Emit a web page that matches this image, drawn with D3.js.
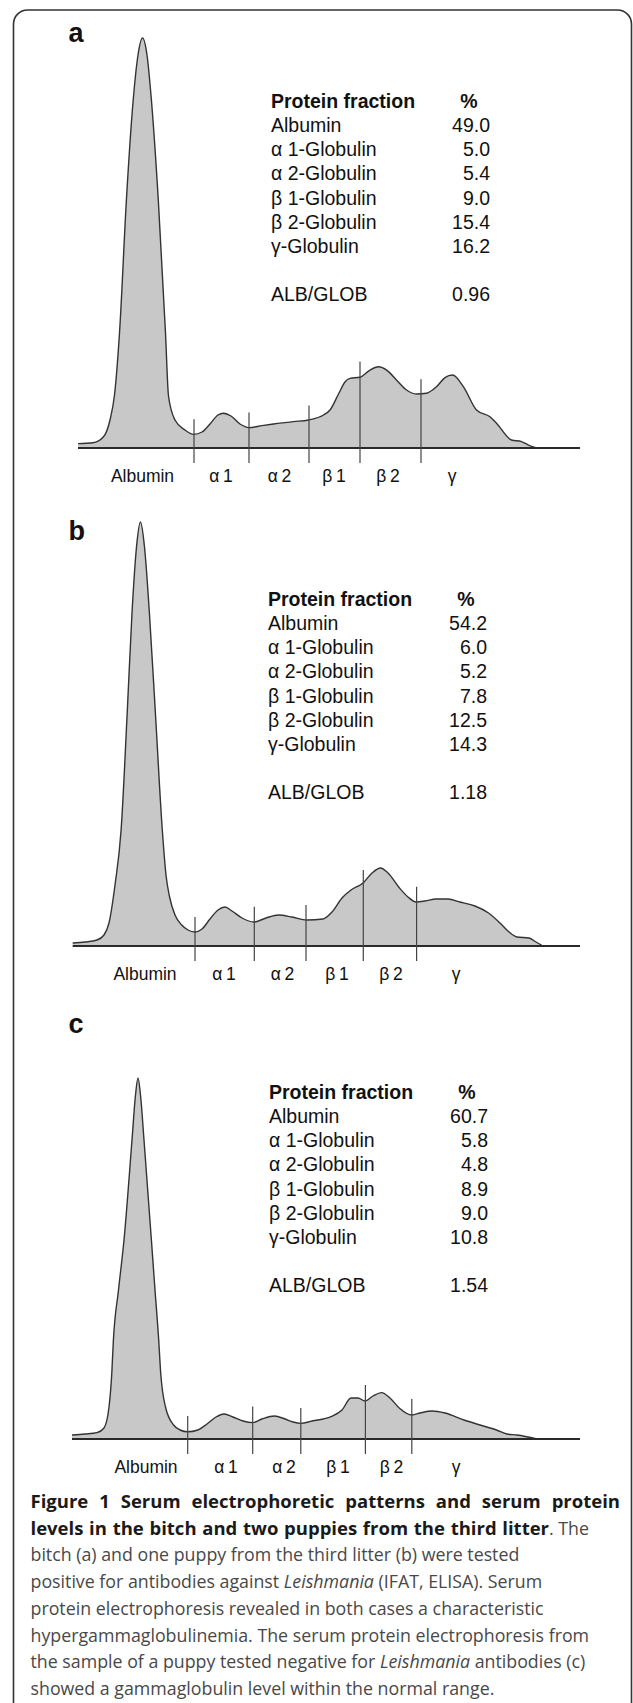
<!DOCTYPE html>
<html>
<head>
<meta charset="utf-8">
<script src="https://cdnjs.cloudflare.com/ajax/libs/d3/7.8.5/d3.min.js"></script>
<style>
  body { margin: 0; background: #fff; }
  svg { display: block; }
</style>
</head>
<body>
<script>
// fraction names for the table and the axis labels under each trace
const fractionNames = ["Albumin", "\u03b1 1-Globulin", "\u03b1 2-Globulin", "\u03b2 1-Globulin", "\u03b2 2-Globulin", "\u03b3-Globulin"];
const tickLabels = ["Albumin", "\u03b1\u20091", "\u03b1\u20092", "\u03b2\u20091", "\u03b2\u20092", "\u03b3"];

// percent values per sample
const percentA = [49.0, 5.0, 5.4, 9.0, 15.4, 16.2];
const percentB = [54.2, 6.0, 5.2, 7.8, 12.5, 14.3];
const percentC = [60.7, 5.8, 4.8, 8.9, 9.0, 10.8];
const ratioA = 0.96, ratioB = 1.18, ratioC = 1.54;

// densitometer traces: [mobility, relative intensity]
const traceA = [[-0.4,1.1],[2.6,1.3],[4.7,2.8],[6,7],[6.9,13.25],[7.9,28.75],[9.28,62],[10.64,87],[11.6,98.25],
  [12.5,102.5],[13.4,98.25],[14.28,87],[15.66,62],[17.1,28.75],[17.7,13],[19,7],[21,4.5],[22.7,3.4],[24.4,4],
  [26,6],[27.6,8.25],[28.7,8.7],[30.2,8],[32,6],[33.8,5.1],[36.4,5.6],[38.7,6],[42.7,6.6],[45.7,7],[48.7,8.25],
  [50,9.5],[51.8,13.75],[53,16.5],[54,17.4],[56,17.7],[57.8,19.3],[59.7,20.3],[61.4,19.4],[63.3,17],[65.3,14.5],
  [67.3,13.5],[69.3,13.7],[71.3,15.3],[73,17.6],[74.5,18.25],[76.7,15.3],[79.3,9.5],[82,7.8],[83.3,6.2],
  [86.3,2],[88.3,1.6],[89.6,0.8],[91.3,0]];
const traceB = [[-1.46,0.75],[1,1],[3.4,1.5],[4.8,2.75],[5.8,5.75],[7,15.25],[8.22,29],[9.44,58.25],[10.4,83.25],
  [11.3,99.75],[12.1,106],[12.9,99.75],[13.88,83.25],[15.08,58.25],[16.46,29],[17.2,17.75],[17.92,12.25],[19,7.75],
  [20.34,5.25],[21.6,4],[23,3.5],[24.4,4.25],[26,6.75],[27.6,9],[29,9.75],[30.4,8.75],[32.4,7],[34.8,6],[37.2,7],
  [39.7,7.75],[42.4,7.25],[45.4,6.5],[48.6,6.75],[50.4,8.5],[52.4,12],[54.2,14],[56.6,15.75],[58.4,18.25],[60.1,19.5],
  [61.6,18.25],[63.9,14.5],[65.6,12.25],[67.2,11],[69,11.25],[71.2,11.75],[73.6,11.75],[76,11],[79,10],[81.7,8.25],
  [84,5.75],[85.8,3.5],[87.4,2.25],[89.8,2],[91.2,1],[92.6,0]];
const traceC = [[-1.6,1],[1,1.25],[3.4,1.6],[4.8,2.75],[5.8,8],[6.36,16.5],[6.68,24.75],[7.7,37.25],[8.8,49.75],
  [10.4,74.75],[11.1,86],[11.6,90.25],[12.1,86],[12.8,74.75],[14.28,49.75],[15,37.25],[15.74,24.75],[16.14,16.5],
  [17.1,8],[18.72,3.5],[20,2.25],[21.54,1.8],[23.56,2.25],[25.4,3.75],[27.2,5.5],[28.8,6.25],[30.6,5.5],[32.6,4.5],
  [34.54,4.1],[36.4,5],[38.9,5.75],[41,5],[42.6,4.25],[44.16,3.9],[46.4,4.5],[50.2,5.6],[52.4,7.25],[54.2,10.25],
  [55.6,10.25],[57,9.5],[58.6,10.75],[60.3,11.6],[62,10.25],[63.9,7.7],[66.36,6],[68,6.5],[70.4,7],[73,6.5],
  [76.8,4.75],[80,3.5],[83.3,2.25],[85.4,1.25],[87.4,1],[91.4,0]];

// fraction boundaries (mobility) and the height the cut line reaches
const dividersA = [22.8, 33.8, 45.8, 56, 68.2];
const dividerTopsA = [7.2, 8.9, 10.6, 21.6, 17.2];
const dividersB = [23, 34.86, 45.2, 56.66, 67.32];
const dividerTopsB = [7.25, 9.8, 10.25, 19, 14.8];
const dividersC = [21.54, 34.54, 44.16, 57.08, 66.36];
const dividerTopsC = [5.75, 8.1, 7.75, 13.5, 10];

// where each fraction label sits (mobility)
const labelPosA = [12.5, 28.2, 39.9, 50.8, 61.6, 74.4];
const labelPosB = [13, 28.8, 40.5, 51.4, 62.2, 75.2];
const labelPosC = [13.2, 29.2, 40.8, 51.6, 62.3, 75.2];

const panels = [
  { id: "a", base: 448, tx: 271, trace: traceA, dividers: dividersA, tops: dividerTopsA, labels: labelPosA, pct: percentA, ratio: ratioA },
  { id: "b", base: 946, tx: 268, trace: traceB, dividers: dividersB, tops: dividerTopsB, labels: labelPosB, pct: percentB, ratio: ratioB },
  { id: "c", base: 1439, tx: 269, trace: traceC, dividers: dividersC, tops: dividerTopsC, labels: labelPosC, pct: percentC, ratio: ratioC }
];

const W = 633, H = 1703;
const sans = "'Liberation Sans', Arial, sans-serif";

const svg = d3.select("body").append("svg")
  .attr("width", W)
  .attr("height", H);

// frame with rounded corners, open at the bottom of the page
svg.append("rect")
  .attr("x", 13.5).attr("y", 10)
  .attr("width", 618).attr("height", 1760)
  .attr("rx", 14)
  .attr("fill", "none")
  .attr("stroke", "#333")
  .attr("stroke-width", 1.6);

const x = d3.scaleLinear().domain([0, 100]).range([80, 580]);
const fmtPct = d3.format(".1f");
const fmtRatio = d3.format(".2f");

panels.forEach(p => {
  const y = d3.scaleLinear().domain([0, 100]).range([p.base, p.base - 400]);
  const g = svg.append("g");

  // filled trace
  g.append("path")
    .datum(p.trace)
    .attr("fill", "#c8c8c8")
    .attr("d", d3.area()
      .x(d => x(d[0]))
      .y0(y(0))
      .y1(d => y(d[1]))
      .curve(d3.curveMonotoneX));

  g.append("path")
    .datum(p.trace)
    .attr("fill", "none")
    .attr("stroke", "#333")
    .attr("stroke-width", 1.4)
    .attr("d", d3.line()
      .x(d => x(d[0]))
      .y(d => y(d[1]))
      .curve(d3.curveMonotoneX));

  // baseline
  g.append("line")
    .attr("x1", x(p.trace[0][0])).attr("x2", x(100))
    .attr("y1", y(0)).attr("y2", y(0))
    .attr("stroke", "#2a2a2a")
    .attr("stroke-width", 2.2);

  // fraction cut lines
  g.selectAll(".cut")
    .data(p.dividers)
    .enter()
    .append("line")
    .attr("x1", d => x(d)).attr("x2", d => x(d))
    .attr("y1", (d, i) => y(p.tops[i]))
    .attr("y2", y(0) + 15)
    .attr("stroke", "#444")
    .attr("stroke-width", 1.2);

  // fraction labels
  g.selectAll(".lab")
    .data(tickLabels)
    .enter()
    .append("text")
    .attr("x", (d, i) => x(p.labels[i]))
    .attr("y", y(0) + 34)
    .attr("text-anchor", "middle")
    .attr("font-family", sans)
    .attr("font-size", 17.5)
    .attr("fill", "#111")
    .text(d => d);

  // panel letter
  g.append("text")
    .attr("x", 68.5)
    .attr("y", p.base - 406)
    .attr("font-family", sans)
    .attr("font-weight", "bold")
    .attr("font-size", 27)
    .attr("fill", "#111")
    .text(p.id);

  // table of fractions
  const t = g.append("g")
    .attr("transform", `translate(${p.tx},${p.base - 340})`)
    .attr("font-family", sans)
    .attr("font-size", 19.5)
    .attr("fill", "#111");
  t.append("text").attr("font-weight", "bold").text("Protein fraction");
  t.append("text").attr("x", 198).attr("text-anchor", "middle").attr("font-weight", "bold").text("%");
  const rowH = 24.15;
  fractionNames.forEach((name, i) => {
    t.append("text").attr("y", rowH * (i + 1)).text(name);
    t.append("text").attr("x", 219).attr("y", rowH * (i + 1)).attr("text-anchor", "end").text(fmtPct(p.pct[i]));
  });
  t.append("text").attr("y", rowH * 8).text("ALB/GLOB");
  t.append("text").attr("x", 219).attr("y", rowH * 8).attr("text-anchor", "end").text(fmtRatio(p.ratio));
});

// caption; the bold title is set justified, so its word gaps are widened to a target end
const capFont = "'Open Sans', 'Noto Sans', sans-serif";
const capX = 30.5;
const capLines = [
  [{ t: "Figure 1 Serum electrophoretic patterns and serum protein", b: true, end: 620 }],
  [{ t: "levels in the bitch and two puppies from the third litter", b: true, end: 549 }, { t: ". The" }],
  [{ t: "bitch (a) and one puppy from the third litter (b) were tested" }],
  [{ t: "positive for antibodies against " }, { t: "Leishmania", i: true }, { t: " (IFAT, ELISA). Serum" }],
  [{ t: "protein electrophoresis revealed in both cases a characteristic" }],
  [{ t: "hypergammaglobulinemia. The serum protein electrophoresis from" }],
  [{ t: "the sample of a puppy tested negative for " }, { t: "Leishmania", i: true }, { t: " antibodies (c)" }],
  [{ t: "showed a gammaglobulin level within the normal range." }]
];
const cap = svg.append("g")
  .attr("font-family", capFont)
  .attr("font-size", 17.8);
capLines.forEach((parts, i) => {
  const line = cap.append("text")
    .attr("x", capX)
    .attr("y", 1508 + i * 26.7);
  parts.forEach(s => {
    const span = line.append("tspan")
      .attr("font-weight", s.b ? "bold" : "normal")
      .attr("font-style", s.i ? "italic" : "normal")
      .attr("font-size", s.b ? 18.5 : null)
      .attr("fill", s.b ? "#1a1a1a" : "#484848")
      .text(s.t);
    if (s.end) {
      const len = span.node().getComputedTextLength();
      const gaps = s.t.split(" ").length - 1;
      const ws = Math.max(0, (s.end - capX - len) / gaps);
      span.style("word-spacing", ws + "px");
    }
  });
});
</script>
</body>
</html>
